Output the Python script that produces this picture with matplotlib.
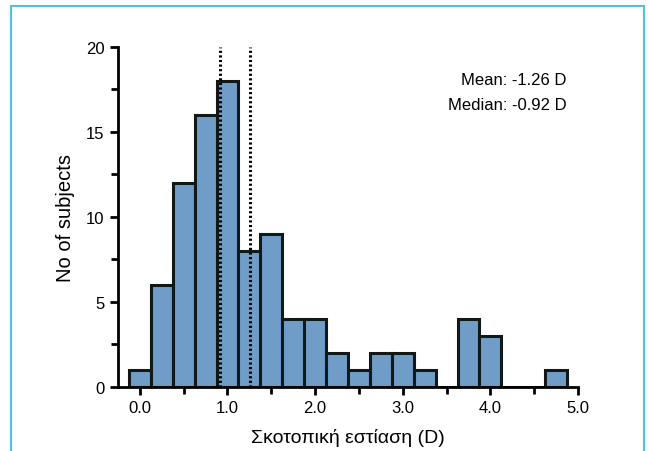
import matplotlib.pyplot as plt
from matplotlib.patches import Rectangle
from matplotlib.ticker import MultipleLocator

plt.rcParams['font.family'] = ['Liberation Sans', 'DejaVu Sans']

# bin centres (D) and number of subjects per bin
bin_centres = [0.0, 0.25, 0.5, 0.75, 1.0, 1.25, 1.5, 1.75, 2.0, 2.25,
               2.5, 2.75, 3.0, 3.25, 3.5, 3.75, 4.0, 4.25, 4.5, 4.75]
counts = [1, 6, 12, 16, 18, 8, 9, 4, 4, 2,
          1, 2, 2, 1, 0, 4, 3, 0, 0, 1]
median_val = 0.92
mean_val = 1.26

fig = plt.figure(figsize=(6.48, 4.52), dpi=100)
ax = fig.add_axes([0.182, 0.142, 0.710, 0.752])

# light blue frame around the whole figure
fig.patches.append(Rectangle((11 / 648, -0.05), (644 - 11) / 648, 1.05 - 7 / 452,
                             transform=fig.transFigure, fill=False,
                             edgecolor='#4fc3dc', linewidth=1.5))

ax.bar(bin_centres, counts, width=0.25, color='#6f9dc8',
       edgecolor='#101818', linewidth=2.2, zorder=2)

ax.vlines([median_val, mean_val], 0, 20, colors='black',
          linestyles=(0, (0.7, 0.8)), linewidth=2.2, zorder=3)

ax.set_xlim(-0.25, 5.0)
ax.set_ylim(0, 20)
ax.xaxis.set_major_locator(MultipleLocator(1.0))
ax.xaxis.set_minor_locator(MultipleLocator(0.5))
ax.yaxis.set_major_locator(MultipleLocator(5))
ax.yaxis.set_minor_locator(MultipleLocator(2.5))
ax.xaxis.set_major_formatter(lambda v, p: f"{v:.1f}")

for side in ('top', 'right'):
    ax.spines[side].set_visible(False)
for side in ('left', 'bottom'):
    ax.spines[side].set_linewidth(2)
ax.tick_params(which='both', direction='out', width=2, labelsize=12)
ax.tick_params(which='major', length=6)
ax.tick_params(which='minor', length=5)

ax.set_xlabel('Σκοτοπική εστίαση (D)', fontsize=14, labelpad=9)
ax.set_ylabel('No of subjects', fontsize=14.5, labelpad=8)

ax.text(0.975, 0.905, f'Mean: -{mean_val:.2f} D', transform=ax.transAxes,
        ha='right', va='center', fontsize=12)
ax.text(0.975, 0.83, f'Median: -{median_val:.2f} D', transform=ax.transAxes,
        ha='right', va='center', fontsize=12)

fig.savefig('out.png', dpi=100)
